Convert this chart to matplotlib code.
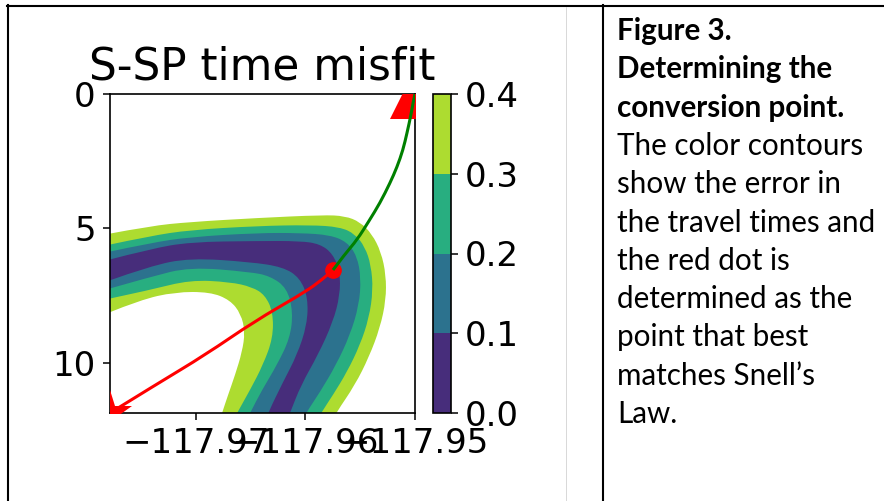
import matplotlib
matplotlib.use("Agg")
import matplotlib.pyplot as plt
from matplotlib.colors import ListedColormap, BoundaryNorm
from matplotlib.cm import ScalarMappable
from matplotlib.lines import Line2D
from matplotlib.path import Path
from matplotlib.patches import PathPatch

# ---------------- data ----------------
levels = [0.0, 0.1, 0.2, 0.3, 0.4]

event_lon, event_depth = -117.97785, 11.86
station_lon, station_depth = -117.95, 0.0
conv_lon, conv_depth = -117.95749, 6.543

# misfit contour boundaries (lon, depth), each runs from the left edge to the bottom edge
outer_04_lon = [-117.97803, -117.97419, -117.97054, -117.96443, -117.95840, -117.95639, -117.95502, -117.95393,
                -117.95310, -117.95265, -117.95265, -117.95320, -117.95420, -117.95548, -117.95721, -117.95749]
outer_04_dep = [5.204, 4.907, 4.758, 4.610, 4.498, 4.535, 4.758, 5.204,
                5.874, 6.729, 7.658, 8.699, 9.777, 10.818, 11.859, 12.119]
outer_03_lon = [-117.97803, -117.97419, -117.97054, -117.96443, -117.95959, -117.95685, -117.95548, -117.95457,
                -117.95402, -117.95383, -117.95420, -117.95502, -117.95621, -117.95749, -117.95858, -117.95886]
outer_03_dep = [5.613, 5.279, 5.056, 4.907, 4.870, 4.944, 5.204, 5.688,
                6.357, 7.286, 8.327, 9.331, 10.335, 11.190, 11.859, 12.119]
outer_02_lon = [-117.97803, -117.97419, -117.97054, -117.96443, -117.96050, -117.95776, -117.95621, -117.95530,
                -117.95493, -117.95511, -117.95593, -117.95721, -117.95867, -117.95995, -117.96023]
outer_02_dep = [5.874, 5.539, 5.316, 5.167, 5.167, 5.242, 5.502, 6.022,
                6.840, 7.844, 8.959, 10.074, 11.078, 11.859, 12.119]
outer_01_lon = [-117.97803, -117.97419, -117.97054, -117.96443, -117.96050, -117.95867, -117.95749, -117.95685,
                -117.95685, -117.95749, -117.95886, -117.96041, -117.96141, -117.96169]
outer_01_dep = [6.171, 5.762, 5.502, 5.465, 5.465, 5.576, 5.948, 6.617,
                7.472, 8.476, 9.703, 10.818, 11.859, 12.119]
inner_01_lon = [-117.97803, -117.97419, -117.97054, -117.96506, -117.96205, -117.96050, -117.95977, -117.95986,
                -117.96077, -117.96205, -117.96342, -117.96360]
inner_01_dep = [6.952, 6.394, 6.097, 6.245, 6.431, 6.840, 7.584, 8.587,
                9.703, 10.706, 11.859, 12.119]
inner_02_lon = [-117.97803, -117.97419, -117.97054, -117.96506, -117.96324, -117.96169, -117.96114, -117.96141,
                -117.96260, -117.96397, -117.96506, -117.96534]
inner_02_dep = [7.249, 6.803, 6.431, 6.617, 6.766, 7.212, 8.104, 9.071,
                10.074, 11.004, 11.859, 12.119]
inner_03_lon = [-117.97803, -117.97419, -117.97054, -117.96689, -117.96488, -117.96370, -117.96297, -117.96297,
                -117.96388, -117.96506, -117.96625, -117.96653]
inner_03_dep = [7.621, 7.286, 6.914, 6.989, 7.175, 7.472, 8.104, 9.071,
                10.074, 11.004, 11.859, 12.119]
inner_04_lon = [-117.97803, -117.97511, -117.97191, -117.96872, -117.96689, -117.96589, -117.96552, -117.96579,
                -117.96643, -117.96707, -117.96762, -117.96780]
inner_04_dep = [8.141, 7.658, 7.361, 7.361, 7.658, 8.178, 8.848, 9.591,
                10.446, 11.190, 11.859, 12.119]

# ray paths
s_ray_lon = [-117.97785, -117.97356, -117.96917, -117.96461, -117.96050, -117.95886, -117.95749]
s_ray_dep = [11.859, 10.781, 9.703, 8.439, 7.472, 7.026, 6.543]
p_ray_lon = [-117.95749, -117.95639, -117.95530, -117.95420, -117.95320, -117.95228, -117.95164,
             -117.95110, -117.95073, -117.95037, -117.95018, -117.95]
p_ray_dep = [6.543, 5.948, 5.428, 4.721, 4.052, 3.309, 2.714, 2.082, 1.450, 0.781, 0.335, 0.0]

x_ticks = [-117.97, -117.96, -117.95]
y_ticks = [0, 5, 10]

caption_lines = ["Figure 3.", "Determining the", "conversion point.", "The color contours",
                 "show the error in", "the travel times and", "the red dot is",
                 "determined as the", "point that best", "matches Snell\u2019s", "Law."]
caption_bold = [True, True, True, False, False, False, False, False, False, False, False]

# ---------------- figure ----------------
W, H = 884, 501
fig = plt.figure(figsize=(W / 100, H / 100), dpi=100)
plt.rcParams['font.family'] = ['DejaVu Sans']


def fx(px):
    return px / W


def fy(py):
    return 1 - py / H


def smooth_path(xs, ys, close=False):
    """Quadratic B-spline style path through the read-off vertices (drawing style only)."""
    pts = list(zip(xs, ys))
    verts = [pts[0]]
    codes = [Path.MOVETO]
    for i in range(1, len(pts) - 1):
        mid = ((pts[i][0] + pts[i + 1][0]) / 2, (pts[i][1] + pts[i + 1][1]) / 2)
        verts += [pts[i], mid]
        codes += [Path.CURVE3, Path.CURVE3]
    verts.append(pts[-1])
    codes.append(Path.LINETO)
    if close:
        verts += [(xs[0], ys[-1]), pts[0]]
        codes += [Path.LINETO, Path.CLOSEPOLY]
    return Path(verts, codes)


ax = fig.add_axes([fx(110), fy(413), fx(415) - fx(110), fy(94) - fy(413)])
band_colors = plt.get_cmap('viridis')([0.125, 0.375, 0.625, 0.875])

boundaries = [
    (outer_04_lon, outer_04_dep, band_colors[3]),
    (outer_03_lon, outer_03_dep, band_colors[2]),
    (outer_02_lon, outer_02_dep, band_colors[1]),
    (outer_01_lon, outer_01_dep, band_colors[0]),
    (inner_01_lon, inner_01_dep, band_colors[1]),
    (inner_02_lon, inner_02_dep, band_colors[2]),
    (inner_03_lon, inner_03_dep, band_colors[3]),
    (inner_04_lon, inner_04_dep, 'white'),
]
for lons, deps, col in boundaries:
    ax.add_patch(PathPatch(smooth_path(lons, deps, close=True), facecolor=col,
                           edgecolor='none', lw=0, zorder=1))

ax.add_patch(PathPatch(smooth_path(s_ray_lon, s_ray_dep), facecolor='none', edgecolor='red',
                       lw=2.2, zorder=3, capstyle='round'))
ax.plot([conv_lon], [conv_depth], 'o', color='red', ms=11, zorder=4)
ax.add_patch(PathPatch(smooth_path(p_ray_lon, p_ray_dep), facecolor='none', edgecolor='green',
                       lw=2.2, zorder=5))
ax.plot([station_lon], [station_depth], '^', color='red', ms=36, mew=0, zorder=4)
ax.plot([event_lon], [event_depth], '*', color='red', ms=33, mew=0, zorder=4)

ax.set_xlim(event_lon, station_lon)
ax.set_ylim(event_depth, station_depth)
ax.set_xticks(x_ticks)
ax.set_yticks(y_ticks)
ax.ticklabel_format(useOffset=False)
ax.tick_params(labelsize=24.5, length=5.2, width=1.1, pad=5)
for s in ax.spines.values():
    s.set_linewidth(1.2)
ax.set_title("S-SP time misfit", fontsize=31.5, pad=10.5)

cax = fig.add_axes([fx(433), fy(413), fx(451) - fx(433), fy(94) - fy(413)])
sm = ScalarMappable(norm=BoundaryNorm(levels, 4), cmap=ListedColormap(band_colors))
cb = fig.colorbar(sm, cax=cax, ticks=levels)
cb.ax.tick_params(labelsize=24.5, length=5.2, width=1.1, pad=5)
cb.outline.set_linewidth(1.2)
cb.ax.set_yticklabels([f"{v:.1f}" for v in levels])


# table borders
def hline(x0, x1, y, lw, color='black'):
    fig.add_artist(Line2D([fx(x0), fx(x1)], [fy(y), fy(y)], lw=lw, color=color))


def vline(x, y0, y1, lw, color='black'):
    fig.add_artist(Line2D([fx(x), fx(x)], [fy(y0), fy(y1)], lw=lw, color=color))


hline(7, 884, 6, 1.5)
vline(8, 5, 501, 1.5)
vline(602.5, 5, 501, 1.5)
vline(566, 7, 501, 0.7, color='#d8d8d8')

# caption
base0, step = 40, 38.3
for i, (t, b) in enumerate(zip(caption_lines, caption_bold)):
    fig.text(fx(617), fy(base0 + i * step), t, fontsize=21.3, family=['Lato', 'DejaVu Sans'],
             fontweight='bold' if b else 'normal', va='baseline', ha='left', color='black')

fig.savefig("out.png", dpi=100)
